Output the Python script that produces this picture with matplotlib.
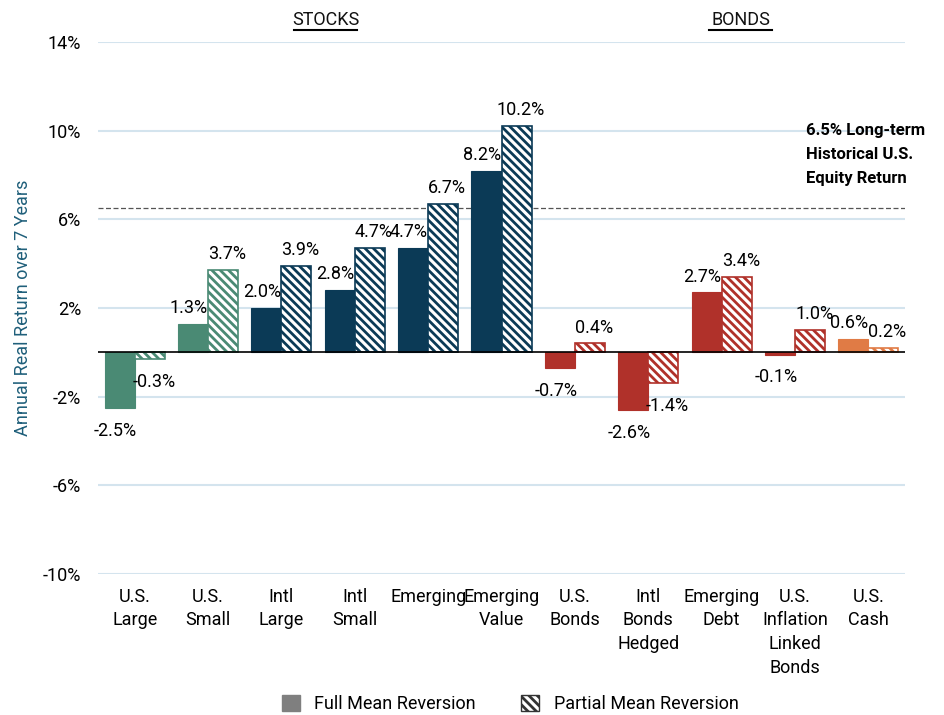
import matplotlib.pyplot as plt
import matplotlib.patches as mpatches
import numpy as np

plt.rcParams['font.family'] = ['Roboto', 'DejaVu Sans']
plt.rcParams['hatch.linewidth'] = 2.0

# Дані
categories = ['U.S.\nLarge', 'U.S.\nSmall', 'Intl\nLarge', 'Intl\nSmall', 'Emerging',
              'Emerging\nValue', 'U.S.\nBonds', 'Intl\nBonds\nHedged', 'Emerging\nDebt',
              'U.S.\nInflation\nLinked\nBonds', 'U.S.\nCash']
full_mean = [-2.5, 1.3, 2.0, 2.8, 4.7, 8.2, -0.7, -2.6, 2.7, -0.1, 0.6]
partial_mean = [-0.3, 3.7, 3.9, 4.7, 6.7, 10.2, 0.4, -1.4, 3.4, 1.0, 0.2]
group_colors = ['#4a8a74', '#4a8a74', '#0b3a56', '#0b3a56', '#0b3a56', '#0b3a56',
                '#b0312a', '#b0312a', '#b0312a', '#b0312a', '#e07b45']
yticks = [-10, -6, -2, 2, 6, 10, 14]
longterm = 6.5

fig = plt.figure(figsize=(9.45, 7.15), dpi=100)
ax = fig.add_axes([0.1037, 0.1972, 0.854, 0.7441])

x = np.arange(len(categories))
w = 0.41

for yt in yticks:
    ax.axhline(yt, color='#d4e4ee', lw=1.5, zorder=0)

ax.bar(x - w / 2, full_mean, w, color=group_colors, edgecolor=group_colors, lw=0.8, zorder=2)
ax.bar(x + w / 2, partial_mean, w, color='white', edgecolor=group_colors,
       hatch='\\\\\\\\', lw=1.2, zorder=2)

ax.axhline(0, color='black', lw=1.2, zorder=3)
ax.axhline(longterm, color='#555555', lw=0.9, ls=(0, (4, 2)), zorder=1)

# Підписи значень (повні трохи ліворуч, часткові трохи праворуч)
for xs, vals, dx in [(x - w / 2, full_mean, -3), (x + w / 2, partial_mean, 3)]:
    for xi, v in zip(xs, vals):
        if v >= 0:
            ax.annotate(f'{v:.1f}%', (xi, v), xytext=(dx, 5), textcoords='offset points',
                        ha='center', va='bottom', fontsize=13)
        else:
            ax.annotate(f'{v:.1f}%', (xi, v), xytext=(dx, -10), textcoords='offset points',
                        ha='center', va='top', fontsize=13)

ax.text(9.15, 10.35, '6.5% Long-term\nHistorical U.S.\nEquity Return', fontsize=12,
        fontweight='bold', ha='left', va='top', linespacing=1.75)

for xs, label in [(2.6, 'STOCKS'), (8.26, 'BONDS')]:
    ax.text(xs, 14.6, label, fontsize=13, ha='center', va='bottom', color='#111111')
    ax.plot([xs - 0.43, xs + 0.43], [14.55, 14.55], color='black', lw=1.5, clip_on=False)

ax.set_xlim(-0.5, 10.5)
ax.set_ylim(-10, 14)
ax.set_yticks(yticks)
ax.set_yticklabels([f'{t}%' for t in yticks], fontsize=13)
ax.set_xticks(x)
ax.set_xticklabels(categories, fontsize=13, va='top', linespacing=1.4)
ax.tick_params(length=0, pad=10)
ax.tick_params(axis='y', pad=12)
for s in ax.spines.values():
    s.set_visible(False)

ax.set_ylabel('Annual Real Return over 7 Years', fontsize=13, color='#1f5f7a', labelpad=8)

handles = [mpatches.Patch(facecolor='#7f7f7f', edgecolor='#7f7f7f'),
           mpatches.Patch(facecolor='white', edgecolor='#333333', hatch='\\\\\\\\')]
fig.legend(handles, ['Full Mean Reversion', 'Partial Mean Reversion'], loc='lower center',
           bbox_to_anchor=(0.54, -0.02), ncol=2, frameon=False, fontsize=13,
           handlelength=1.0, handleheight=1.0, columnspacing=2.5)

fig.savefig('out.png', dpi=100)
